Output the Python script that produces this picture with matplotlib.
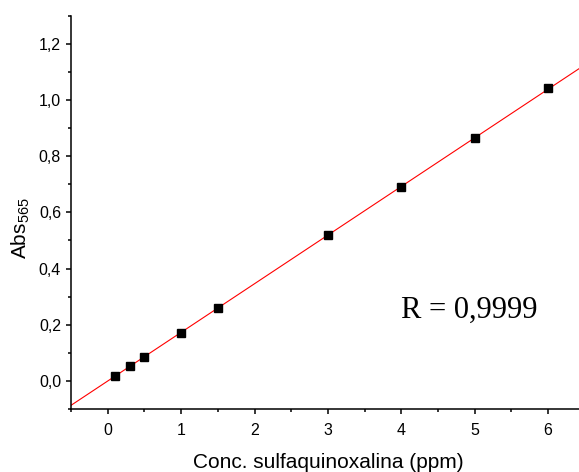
import matplotlib
matplotlib.use('Agg')
import matplotlib.pyplot as plt
import numpy as np
from matplotlib.ticker import MultipleLocator, FuncFormatter

# calibration data
conc = [0.1, 0.3, 0.5, 1.0, 1.5, 3.0, 4.0, 5.0, 6.0]
absorb = [0.018, 0.052, 0.086, 0.172, 0.260, 0.518, 0.690, 0.865, 1.041]
r_text = 'R = 0,9999'

plt.rcParams['font.family'] = ['Liberation Sans', 'DejaVu Sans']
plt.rcParams['mathtext.fontset'] = 'custom'
plt.rcParams['mathtext.rm'] = 'Liberation Sans'
plt.rcParams['mathtext.it'] = 'Liberation Sans:italic'

fig = plt.figure(figsize=(5.79, 4.72), dpi=100)
ax = fig.add_axes([0.1226, 0.1335, 0.8774, 0.8332])

xlo, xhi = -0.5, 6.42
slope, icpt = np.polyfit(conc, absorb, 1)
xf = np.array([xlo, xhi])
ax.plot(xf, slope * xf + icpt, color='red', lw=0.8, zorder=2)
ax.plot(conc, absorb, 's', color='black', ms=6, zorder=3)

ax.set_xlim(xlo, xhi)
ax.set_ylim(-0.1, 1.3)
ax.xaxis.set_major_locator(MultipleLocator(1))
ax.xaxis.set_minor_locator(MultipleLocator(0.5))
ax.yaxis.set_major_locator(MultipleLocator(0.2))
ax.yaxis.set_minor_locator(MultipleLocator(0.1))
ax.yaxis.set_major_formatter(FuncFormatter(lambda v, p: '{:.1f}'.format(v).replace('.', ',')))

for s in ['top', 'right']:
    ax.spines[s].set_visible(False)
for s in ['left', 'bottom']:
    ax.spines[s].set_linewidth(1.1)
ax.tick_params(which='major', direction='out', length=3.6, width=1.1, labelsize=11.5)
ax.tick_params(axis='x', which='major', pad=6.5)
ax.tick_params(axis='y', which='major', pad=3.5)
ax.tick_params(which='minor', direction='out', length=2.3, width=1.1)

ax.set_xlabel('Conc. sulfaquinoxalina (ppm)', fontsize=15)
ax.set_ylabel(r'Abs$_\mathrm{565}$', fontsize=15)
ax.xaxis.set_label_coords(0.506, -0.113)
ax.yaxis.set_label_coords(-0.076, 0.46)

ax.text(4.92, 0.252, r_text, fontsize=22, family=['Liberation Serif'], ha='center', va='center')

fig.savefig('out.png', dpi=100)
